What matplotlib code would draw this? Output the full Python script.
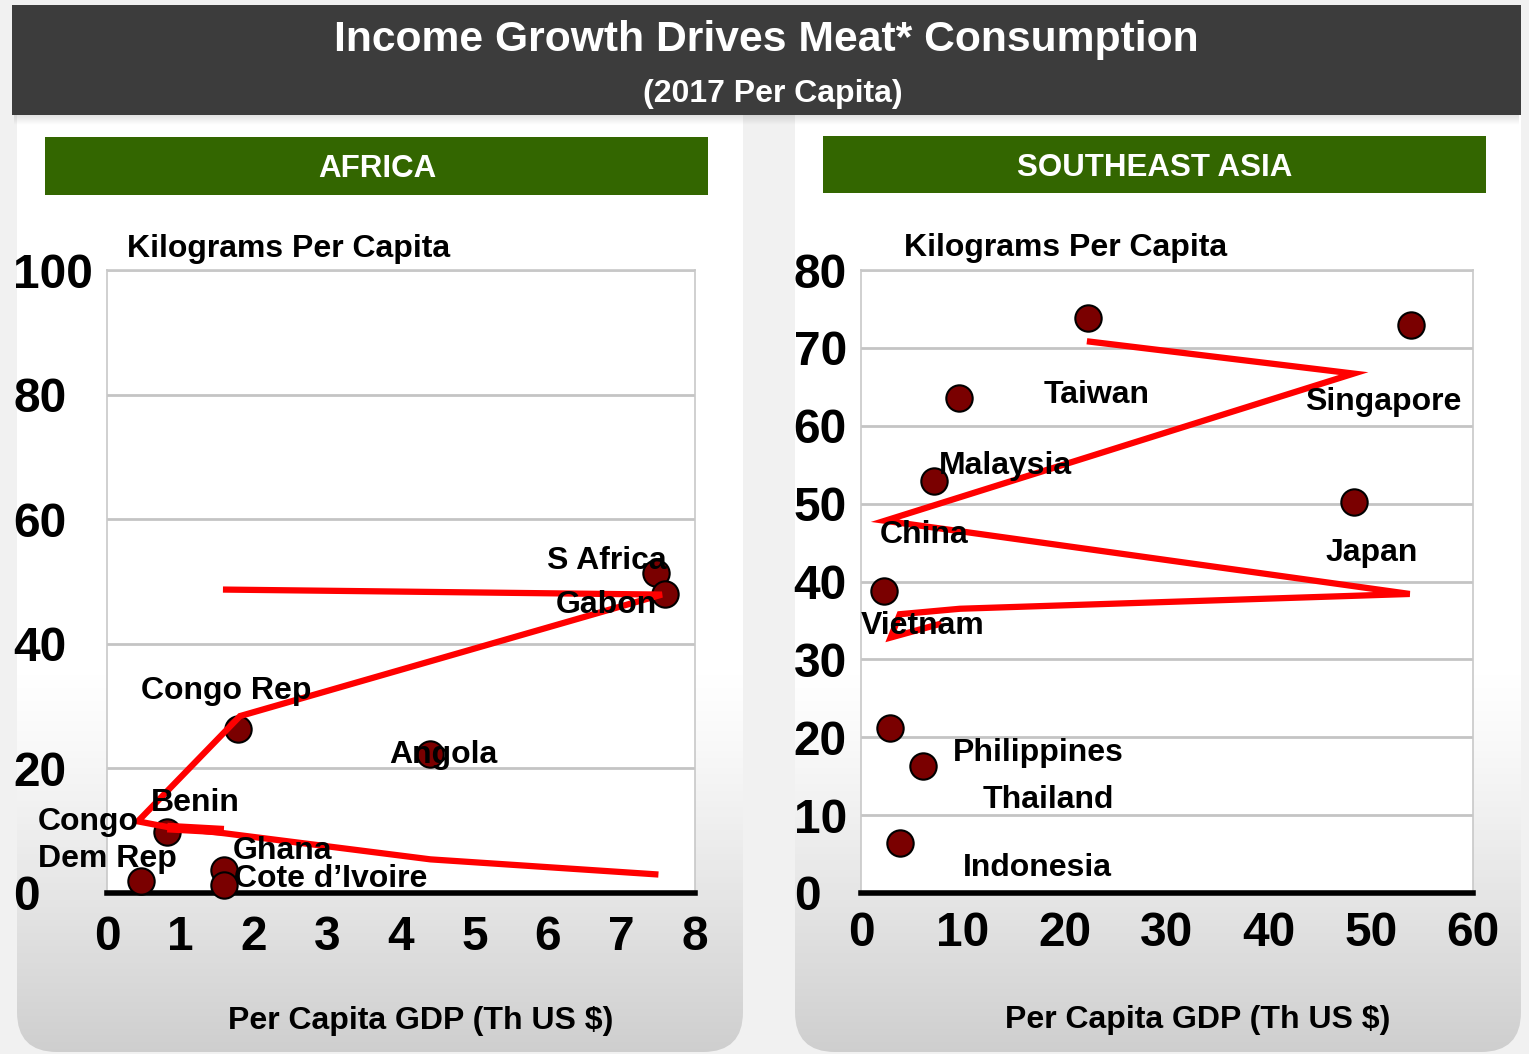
import numpy as np
import matplotlib
matplotlib.use('Agg')
import matplotlib.pyplot as plt
from matplotlib.patches import Rectangle, FancyBboxPatch

plt.rcParams['font.family'] = ['Liberation Sans', 'DejaVu Sans']
plt.rcParams['font.weight'] = 'bold'

# ---- data: Africa ----
africa_names = ['S Africa', 'Gabon', 'Congo Rep', 'Angola', 'Benin',
                'Congo Dem Rep', 'Ghana', "Cote d'Ivoire"]
africa_gdp = [7.47, 7.59, 1.78, 4.39, 0.82, 0.46, 1.59, 1.59]
africa_meat = [51.4, 48.0, 26.3, 22.3, 9.8, 1.9, 3.7, 1.3]
# red line as it appears in the chart
africa_line_x = [1.62, 7.55, 1.81, 0.42, 0.82, 1.59, 4.4, 7.46]
africa_line_y = [48.7, 47.9, 28.4, 11.5, 10.6, 9.6, 5.4, 3.0]
africa_step_x = [0.82, 1.59]
africa_step_y = [10.5, 10.0]
# label positions (Congo Dem Rep is written on two lines)
africa_lab_txt = ['S Africa', 'Gabon', 'Congo Rep', 'Angola', 'Benin',
                  'Congo', 'Dem Rep', 'Ghana', 'Cote d\u2019Ivoire']
africa_lab_x = [6.80, 6.80, 1.62, 4.57, 1.20, -0.94, -0.94, 2.39, 3.05]
africa_lab_y = [53.3, 46.3, 32.4, 22.2, 14.5, 11.4, 5.5, 6.7, 2.2]
africa_lab_ha = ['center', 'center', 'center', 'center', 'center',
                 'left', 'left', 'center', 'center']

# ---- data: Southeast Asia ----
sea_names = ['Taiwan', 'Singapore', 'Malaysia', 'China', 'Japan',
             'Vietnam', 'Philippines', 'Thailand', 'Indonesia']
sea_gdp = [22.25, 53.9, 9.6, 7.2, 48.3, 2.25, 2.8, 6.1, 3.8]
sea_meat = [73.9, 72.9, 63.5, 52.9, 50.2, 38.8, 21.2, 16.3, 6.4]
sea_line_x = [22.45, 48.3, 2.35, 53.8, 9.7, 3.8, 2.9, 7.6]
sea_line_y = [70.8, 66.7, 47.8, 38.4, 36.5, 35.8, 32.8, 34.5]
sea_lab_x = [23.1, 51.2, 14.2, 6.2, 50.1, 6.0, 17.4, 18.4, 17.3]
sea_lab_y = [64.0, 63.1, 54.8, 46.0, 43.7, 34.3, 18.0, 12.0, 3.2]

W, H = 1529, 1054
fig = plt.figure(figsize=(W / 100, H / 100), dpi=100)
fig.patch.set_facecolor('#f1f1f1')

# background drawing in pixel coordinates
bg = fig.add_axes([0, 0, 1, 1], zorder=0)
bg.set_xlim(0, W)
bg.set_ylim(H, 0)
bg.axis('off')


def panel(x0, x1):
    y0, y1 = 60, H - 2
    p = FancyBboxPatch((x0, y0), x1 - x0, y1 - y0,
                       boxstyle='round,pad=0,rounding_size=40',
                       facecolor='none', edgecolor='none')
    bg.add_patch(p)
    t = np.linspace(0, 1, 300)
    g = np.where(t < 0.62, 1.0, 1.0 - 0.19 * ((t - 0.62) / 0.38) ** 1.2)
    img = np.dstack([g, g, g]).reshape(300, 1, 3)
    im = bg.imshow(img, extent=(x0, x1, y1, y0), origin='upper', aspect='auto', zorder=1)
    im.set_clip_path(p)


panel(17, 743)
panel(795, 1521)

# header with shadow
for i in range(14):
    bg.add_patch(Rectangle((14, 110 + i), 1505, 2, color='black',
                           alpha=0.08 * (1 - i / 14), lw=0, zorder=2))
bg.add_patch(Rectangle((12, 5), 1509, 110, color='#3c3c3c', lw=0, zorder=3))
bg.text(766, 40, 'Income Growth Drives Meat* Consumption', color='white',
        fontsize=30.7, fontweight='bold', ha='center', va='center', zorder=4)
bg.text(773, 94, '(2017 Per Capita)', color='white',
        fontsize=23, fontweight='bold', ha='center', va='center', zorder=4)

# green region headers
bg.add_patch(Rectangle((45, 137), 663, 58, color='#336600', lw=0, zorder=3))
bg.text(377, 169, 'AFRICA', color='white', fontsize=22.5, fontweight='bold',
        ha='center', va='center', zorder=4)
bg.add_patch(Rectangle((823, 136), 663, 57, color='#336600', lw=0, zorder=3))
bg.text(1155, 168, 'SOUTHEAST ASIA', color='white', fontsize=22.5, fontweight='bold',
        ha='center', va='center', zorder=4)

# axis titles
bg.text(127, 249, 'Kilograms Per Capita', fontsize=23, fontweight='bold',
        ha='left', va='center', zorder=4)
bg.text(904, 248, 'Kilograms Per Capita', fontsize=23, fontweight='bold',
        ha='left', va='center', zorder=4)
bg.text(421, 1021, 'Per Capita GDP (Th US $)', fontsize=23, fontweight='bold',
        ha='center', va='center', zorder=4)
bg.text(1198, 1020, 'Per Capita GDP (Th US $)', fontsize=23, fontweight='bold',
        ha='center', va='center', zorder=4)


def make_axes(left_px, width_px, ymax, ystep, xmax, xstep, ypad, xpad):
    ax = fig.add_axes([left_px / W, (H - 893) / H, width_px / W, 623 / H], zorder=2)
    ax.set_facecolor('white')
    ax.set_xlim(0, xmax)
    ax.set_ylim(0, ymax)
    ax.set_yticks(np.arange(0, ymax + 1, ystep))
    ax.set_xticks(np.arange(0, xmax + 1, xstep))
    ax.grid(axis='y', color='#c4c4c4', lw=2, zorder=0)
    ax.set_axisbelow(True)
    for s in ['left', 'right', 'top']:
        ax.spines[s].set_color('#c8c8c8')
        ax.spines[s].set_linewidth(1.2)
    ax.spines['bottom'].set_color('black')
    ax.spines['bottom'].set_linewidth(4)
    ax.tick_params(axis='both', length=0, labelsize=34.5)
    ax.tick_params(axis='y', pad=ypad)
    ax.tick_params(axis='x', pad=xpad)
    for lab in ax.get_yticklabels():
        lab.set_horizontalalignment('left')
        lab.set_fontweight('bold')
    for lab in ax.get_xticklabels():
        lab.set_fontweight('bold')
    return ax


ax1 = make_axes(107, 588, 100, 20, 8, 1, 67.5, 16)
ax1.scatter(africa_gdp, africa_meat, s=360, color='#7a0000', edgecolor='black',
            linewidth=1.5, zorder=3, clip_on=False)
ax1.plot(africa_line_x, africa_line_y, color='red', lw=4.5, zorder=4,
         solid_joinstyle='miter')
ax1.plot(africa_step_x, africa_step_y, color='red', lw=7, zorder=4,
         solid_capstyle='butt')
for tx, lx, ly, ha in zip(africa_lab_txt, africa_lab_x, africa_lab_y, africa_lab_ha):
    ax1.text(lx, ly, tx, fontsize=23, fontweight='bold', ha=ha, va='center',
             zorder=5, clip_on=False)

ax2 = make_axes(861, 612, 80, 10, 60, 10, 48.5, 13)
ax2.scatter(sea_gdp, sea_meat, s=360, color='#7a0000', edgecolor='black',
            linewidth=1.5, zorder=3, clip_on=False)
ax2.plot(sea_line_x, sea_line_y, color='red', lw=4.5, zorder=4,
         solid_joinstyle='miter')
for tx, lx, ly in zip(sea_names, sea_lab_x, sea_lab_y):
    ax2.text(lx, ly, tx, fontsize=23, fontweight='bold', ha='center', va='center',
             zorder=5, clip_on=False)

fig.savefig('out.png', dpi=100, facecolor=fig.get_facecolor())
